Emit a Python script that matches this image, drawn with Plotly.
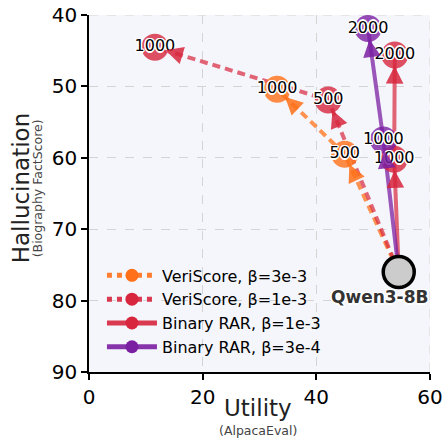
import math
import plotly.graph_objects as go

# ---------------- data ----------------
base_name = "Qwen3-8B"
base_utility = 54.5
base_halluc = 76.0

series_names = ["VeriScore, β=3e-3", "VeriScore, β=1e-3", "Binary RAR, β=1e-3", "Binary RAR, β=3e-4"]
series_steps = [[500, 1000], [500, 1000], [1000, 2000], [1000, 2000]]
series_utility = [[45.0, 33.1], [42.1, 11.6], [53.7, 53.8], [51.8, 49.1]]
series_halluc = [[59.5, 50.4], [51.9, 44.5], [60.2, 45.6], [57.5, 41.9]]

x_ticks = [0, 20, 40, 60]
y_ticks = [40, 50, 60, 70, 80, 90]

# ---------------- style ----------------
colors = ["255,112,24", "215,38,61", "215,38,61", "123,31,162"]
dashes = ["8px,5px", "8px,5px", "solid", "solid"]
line_alpha = [0.75, 0.7, 0.7, 0.75]
W, H = 442, 440
ML, MR, MT, MB = 89, 12, 15, 68
XR = [0, 60]
YR = [90, 40]
sx = (W - ML - MR) / (XR[1] - XR[0])
sy = (H - MT - MB) / (YR[0] - YR[1])
FONT = "DejaVu Sans"
SHADOW = "-1px -1px 0 #fff, 1px -1px 0 #fff, -1px 1px 0 #fff, 1px 1px 0 #fff, 0 -1.5px 0 #fff, 0 1.5px 0 #fff, -1.5px 0 0 #fff, 1.5px 0 0 #fff"

fig = go.Figure()
annotations = []

for i, name in enumerate(series_names):
    xs = [base_utility] + series_utility[i]
    ys = [base_halluc] + series_halluc[i]
    c = colors[i]
    fig.add_trace(go.Scatter(
        x=xs, y=ys, mode="lines",
        line=dict(color=f"rgba({c},{line_alpha[i]})", width=4, dash=dashes[i]),
        showlegend=False, hoverinfo="skip"))
    # arrowheads at each point
    for k in range(1, len(xs)):
        dx = (xs[k] - xs[k - 1]) * sx
        dy = (ys[k] - ys[k - 1]) * sy
        L = math.hypot(dx, dy)
        tail = 26
        annotations.append(dict(
            x=xs[k], y=ys[k], xref="x", yref="y", text="",
            showarrow=True, arrowhead=2, arrowsize=1.1, arrowwidth=3.2,
            arrowcolor=f"rgba({c},0.85)", standoff=11,
            ax=-dx / L * tail, ay=-dy / L * tail))

# markers
for i, name in enumerate(series_names):
    c = colors[i]
    fig.add_trace(go.Scatter(
        x=series_utility[i], y=series_halluc[i], mode="markers",
        marker=dict(size=27, color=f"rgba({c},0.8)", line=dict(width=0)),
        showlegend=False, hoverinfo="skip"))

# labels
for i, name in enumerate(series_names):
    fig.add_trace(go.Scatter(
        x=series_utility[i], y=series_halluc[i], mode="text",
        text=[str(s) for s in series_steps[i]], textposition="middle center",
        textfont=dict(family=FONT, size=16, color="black", shadow=SHADOW),
        showlegend=False, hoverinfo="skip"))

# base model
fig.add_trace(go.Scatter(
    x=[base_utility], y=[base_halluc], mode="markers",
    marker=dict(size=31, color="#cccccc", line=dict(color="black", width=3.5)),
    showlegend=False, hoverinfo="skip"))
annotations.append(dict(
    x=base_utility, y=base_halluc, xref="x", yref="y", text=f"<b>{base_name}</b>",
    showarrow=False, xanchor="right", yanchor="middle", xshift=31, yshift=-25,
    font=dict(family=FONT, size=17, color="#333333", shadow=SHADOW)))

# legend entries
for i, name in enumerate(series_names):
    c = colors[i]
    fig.add_trace(go.Scatter(
        x=[None], y=[None], mode="lines+markers", name=name,
        line=dict(color=f"rgba({c},0.9)", width=5, dash="dot" if i < 2 else "solid"),
        marker=dict(size=13, color=f"rgb({c})")))

# axis titles
annotations.append(dict(
    x=-0.199, y=0.515, xref="paper", yref="paper", text="Hallucination",
    textangle=-90, showarrow=False, xanchor="center", yanchor="middle",
    font=dict(family=FONT, size=23, color="#222")))
annotations.append(dict(
    x=-0.152, y=0.515, xref="paper", yref="paper", text="(Biography FactScore)",
    textangle=-90, showarrow=False, xanchor="center", yanchor="middle",
    font=dict(family=FONT, size=12.5, color="#444")))
annotations.append(dict(
    x=0.496, y=-0.101, xref="paper", yref="paper", text="Utility",
    showarrow=False, xanchor="center", yanchor="middle",
    font=dict(family=FONT, size=23, color="#222")))
annotations.append(dict(
    x=0.496, y=-0.163, xref="paper", yref="paper", text="(AlpacaEval)",
    showarrow=False, xanchor="center", yanchor="middle",
    font=dict(family=FONT, size=12.5, color="#444")))

# dashed grid along the top and right edges (plotly skips edge gridlines)
edge_grid = dict(color="#d4d4d4", width=1, dash="dash")
shapes = [
    dict(type="line", xref="paper", yref="y", x0=0, x1=1, y0=YR[1], y1=YR[1], line=edge_grid, layer="below"),
    dict(type="line", xref="x", yref="paper", x0=XR[1], x1=XR[1], y0=0, y1=1, line=edge_grid, layer="below"),
]

axis_common = dict(
    showline=True, linecolor="black", linewidth=1.5, mirror=False,
    ticks="outside", ticklen=6, tickwidth=1.5, tickcolor="black",
    showgrid=True, gridcolor="#d4d4d4", gridwidth=1, griddash="dash",
    zeroline=False, automargin=False, ticklabeloverflow="allow",
    tickfont=dict(family=FONT, size=20, color="black"))

fig.update_layout(
    width=W, height=H,
    margin=dict(l=ML, r=MR, t=MT, b=MB),
    paper_bgcolor="white", plot_bgcolor="#f5f6fb",
    xaxis=dict(range=XR, tickvals=x_ticks, **axis_common),
    yaxis=dict(range=YR, tickvals=y_ticks, **axis_common),
    annotations=annotations,
    shapes=shapes,
    legend=dict(x=0.038, y=0.318, xanchor="left", yanchor="top",
                bgcolor="rgba(0,0,0,0)", font=dict(family=FONT, size=16, color="black"),
                itemwidth=50, tracegroupgap=0),
    font=dict(family=FONT),
)

fig.write_html("out.html", config={"displayModeBar": False},
               post_script="document.body.style.margin='0';")
